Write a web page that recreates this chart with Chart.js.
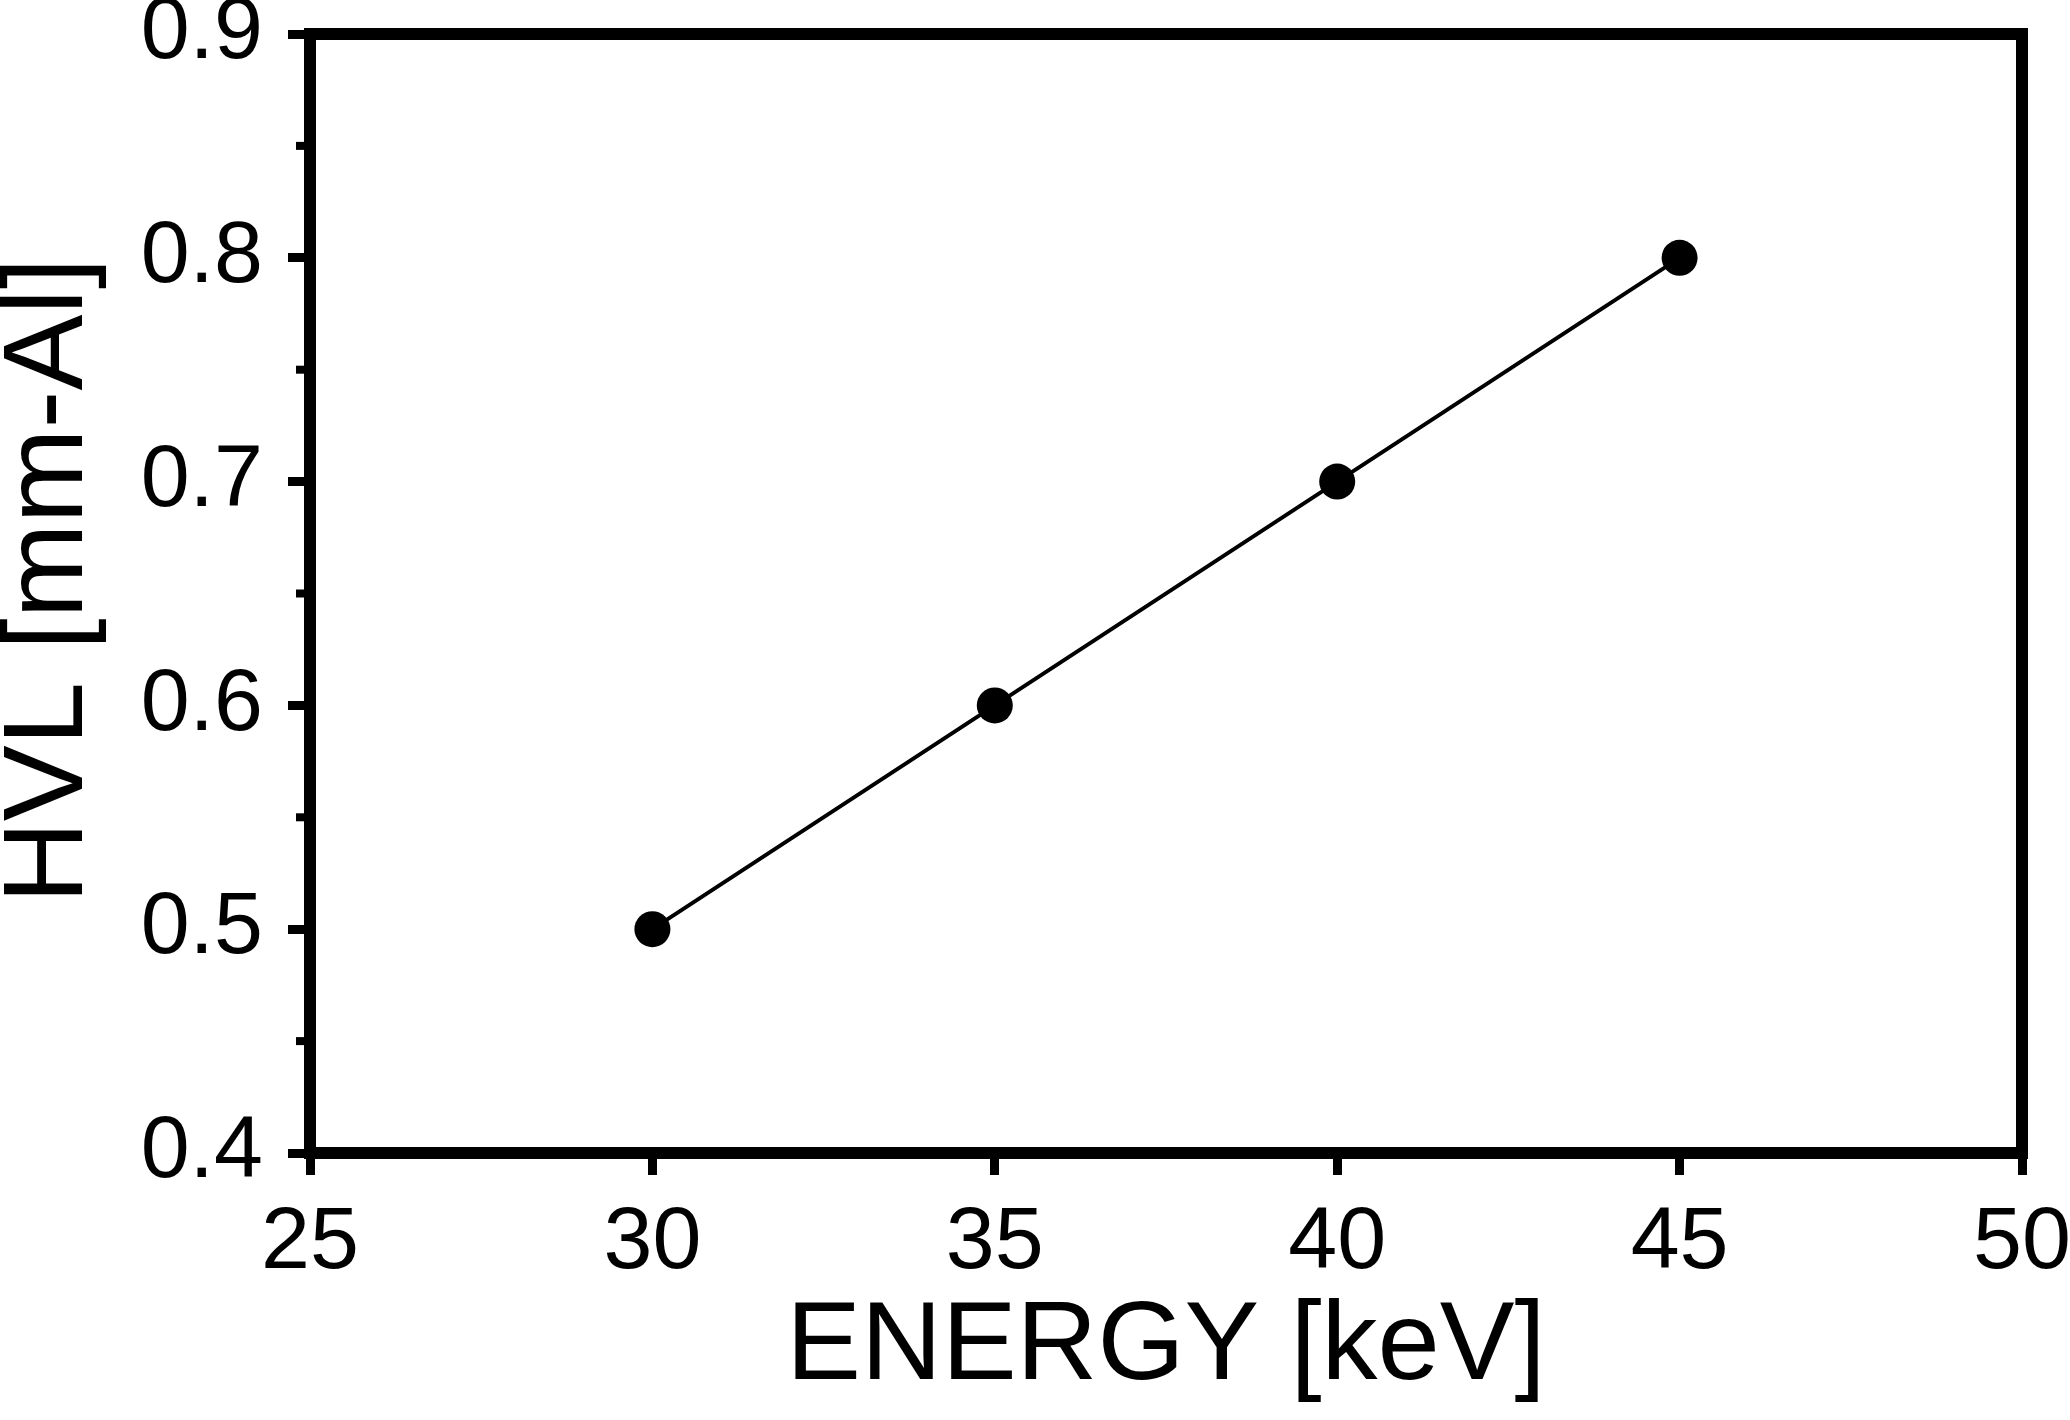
<!DOCTYPE html>
<html>
<head>
<meta charset="utf-8">
<script src="https://cdn.jsdelivr.net/npm/chart.js@4"></script>
<style>
  html, body { margin: 0; padding: 0; background: #fff; }
  #box { width: 2070px; height: 1420px; position: relative; }
</style>
</head>
<body>
<div id="box"><canvas id="myChart"></canvas></div>
<script>
// energies and half value layers
const energy = [30, 35, 40, 45];
const hvl = [0.5, 0.6, 0.7, 0.8];
const xTitle = 'ENERGY [keV]';
const yTitle = 'HVL [mm-Al]';

const FONT = "'Liberation Sans', Arial, Helvetica, sans-serif";

function isMajor(v){
  return Math.round(v * 100) % 10 === 0;
}

// frame round the plot and the short minor ticks on the y axis
const framePlugin = {
  id: 'frame',
  afterDraw(chart){
    const ctx = chart.ctx;
    const a = chart.chartArea;
    const ys = chart.scales.y;
    ctx.save();
    ctx.strokeStyle = '#000';
    ctx.lineWidth = 8;
    ys.ticks.forEach(function(t){
      if (isMajor(t.value)) return;
      const py = ys.getPixelForValue(t.value);
      ctx.beginPath();
      ctx.moveTo(a.left - 14, py);
      ctx.lineTo(a.left, py);
      ctx.stroke();
    });
    ctx.lineWidth = 12;
    ctx.lineJoin = 'miter';
    ctx.strokeRect(a.left, a.top, a.right - a.left, a.bottom - a.top);
    ctx.restore();
  }
};

const pts = energy.map(function(e, i){ return {x: e, y: hvl[i]}; });

const config = {
  type: 'line',
  data: {
    datasets: [{
      data: pts,
      borderColor: '#000',
      borderWidth: 4,
      backgroundColor: '#000',
      pointBackgroundColor: '#000',
      pointBorderWidth: 0,
      pointRadius: 18,
      fill: false,
      tension: 0
    }]
  },
  options: {
    responsive: true,
    maintainAspectRatio: false,
    animation: false,
    layout: { padding: { left: 0, top: 34, right: 48, bottom: 0 } },
    plugins: { legend: { display: false }, tooltip: { enabled: false } },
    scales: {
      x: {
        type: 'linear',
        min: 25, max: 50,
        border: { display: false },
        grid: { drawOnChartArea: false, drawTicks: true, tickLength: 22, tickWidth: 9, tickColor: '#000' },
        ticks: { stepSize: 5, color: '#000', padding: 16, maxRotation: 0, font: { family: FONT, size: 88 } },
        title: { display: true, text: xTitle, color: '#000', font: { family: FONT, size: 112, lineHeight: 1.2 }, padding: { top: 0, bottom: 5 } },
        afterFit: function(s){ s.height = 267; s.paddingLeft = 0; s.paddingRight = 0; }
      },
      y: {
        type: 'linear',
        min: 0.4, max: 0.9,
        border: { display: false },
        grid: {
          drawOnChartArea: false, drawTicks: true, tickLength: 22, tickWidth: 9,
          tickColor: function(c){ return isMajor(c.tick.value) ? '#000' : 'rgba(0,0,0,0)'; }
        },
        ticks: {
          stepSize: 0.05, color: '#000', padding: 25,
          font: { family: FONT, size: 88 },
          callback: function(v){ return isMajor(v) ? v.toFixed(1) : ''; }
        },
        title: { display: true, text: yTitle, color: '#000', font: { family: FONT, size: 114, lineHeight: 0.895 }, padding: { top: 0, bottom: 0 } },
        afterFit: function(s){
          s.width = 310; s.paddingTop = 0; s.paddingBottom = 0;
          // the title sits a little above the middle of the axis in the figure
          if (!s._shifted){
            const orig = s.drawTitle;
            s.drawTitle = function(){
              const ctx = this.ctx;
              ctx.save();
              ctx.translate(0, -13);
              orig.apply(this, arguments);
              ctx.restore();
            };
            s._shifted = true;
          }
        }
      }
    }
  },
  plugins: [framePlugin]
};

var myChart = new Chart(document.getElementById('myChart'), config);
</script>
</body>
</html>
